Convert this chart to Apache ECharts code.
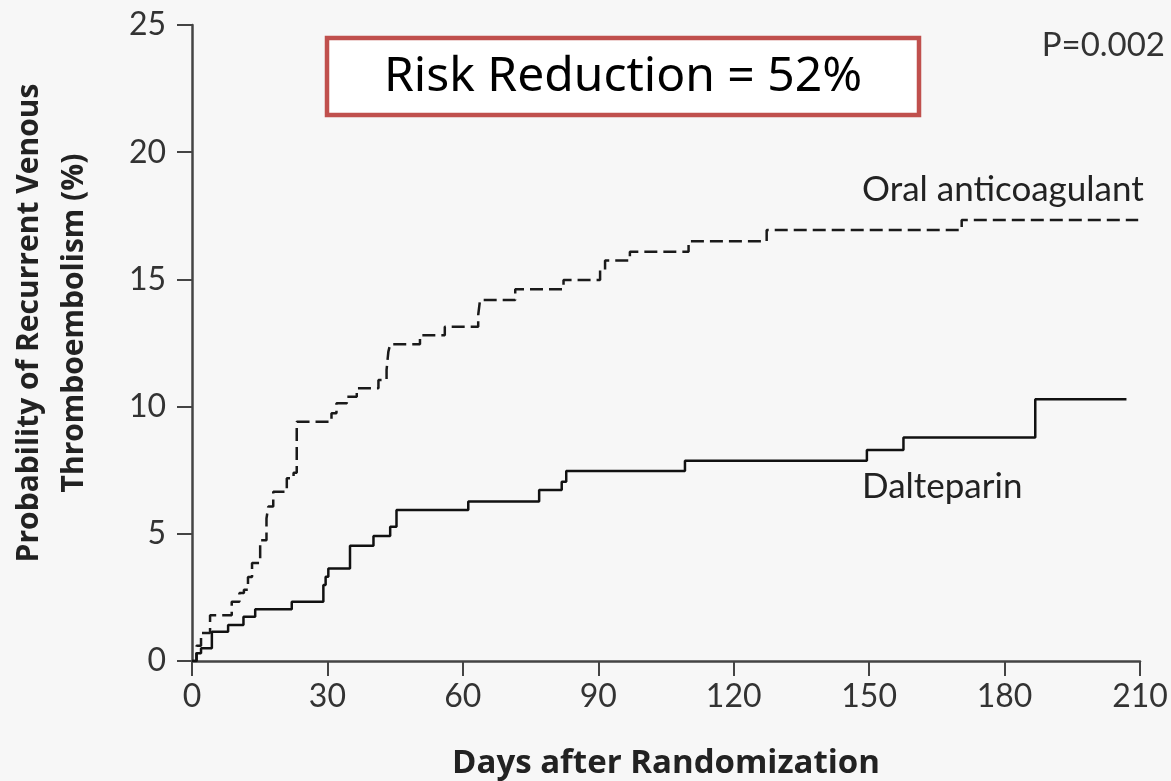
<!DOCTYPE html>
<html>
<head>
<meta charset="utf-8">
<script src="https://cdn.jsdelivr.net/npm/echarts@6/dist/echarts.min.js"></script>
<style>
html,body{margin:0;padding:0;background:#f7f7f7;}
#chart{width:1171px;height:781px;}
</style>
</head>
<body>
<div id="chart"></div>
<script>
// Kaplan-Meier style cumulative probability (%), [day, value]
const oralDays   = [0, 1, 2, 4, 8.8, 10.5, 11.5, 12.4, 13.3, 15.1, 16.5, 16.9, 18, 21, 22.5, 23.2, 30.9, 32, 34.3, 36.5, 41.3, 43.1, 43.5, 43.9, 50.5, 56, 63.4, 63.8, 71.6, 82.3, 90.4, 91.5, 97, 110, 127.3, 170.5, 209.6];
const oralValues = [0, 0.6, 1.1, 1.8, 2.33, 2.67, 2.8, 3.3, 3.85, 4.75, 5.6, 6.07, 6.65, 7.18, 7.4, 9.4, 9.74, 10.13, 10.39, 10.72, 11.05, 11.44, 12.16, 12.45, 12.8, 13.14, 13.6, 14.19, 14.61, 14.98, 15.37, 15.74, 16.09, 16.5, 16.94, 17.33, 17.33];
const daltDays   = [0, 1, 2, 4.4, 8, 11.4, 14, 22.1, 29.1, 29.6, 30.2, 35, 40.2, 43.9, 45.3, 61.2, 76.9, 81.9, 82.9, 109.2, 149.5, 157.6, 186.8, 207];
const daltValues = [0, 0.3, 0.5, 1.15, 1.42, 1.74, 2.03, 2.33, 2.99, 3.31, 3.64, 4.53, 4.91, 5.28, 5.94, 6.27, 6.72, 7.05, 7.47, 7.87, 8.29, 8.79, 10.29, 10.29];
const xTicks = [0, 30, 60, 90, 120, 150, 180, 210];
const yTicks = [0, 5, 10, 15, 20, 25];
const seriesNames = ['Oral anticoagulant', 'Dalteparin'];
const pValueText = 'P=0.002';
const riskText = 'Risk Reduction = 52%';

const zip = (a, b) => a.map((d, i) => [d, b[i]]);
const chart = echarts.init(document.getElementById('chart'));
const FONT = 'Lato, "Noto Sans", sans-serif';
const BOLDFONT = '"Open Sans", Lato, sans-serif';

chart.setOption({
  backgroundColor: '#f7f7f7',
  animation: false,
  grid: { left: 192, right: 31, top: 25, bottom: 120, containLabel: false, outerBoundsMode: 'none' },
  xAxis: {
    type: 'value', min: xTicks[0], max: xTicks[xTicks.length - 1], interval: 30,
    name: 'Days after Randomization', nameLocation: 'middle', nameGap: 86,
    nameTextStyle: { fontFamily: BOLDFONT, fontWeight: 'bold', fontSize: 33, color: '#222' },
    axisLine: { show: true, lineStyle: { color: '#444', width: 2.5 } },
    axisTick: { show: true, length: 15, lineStyle: { color: '#444', width: 2 } },
    axisLabel: { fontFamily: FONT, fontSize: 32, color: '#333', margin: 20 },
    splitLine: { show: false }
  },
  yAxis: {
    type: 'value', min: yTicks[0], max: yTicks[yTicks.length - 1], interval: 5,
    axisLine: { show: true, lineStyle: { color: '#444', width: 2.5 } },
    axisTick: { show: true, length: 15, lineStyle: { color: '#444', width: 2 } },
    axisLabel: { fontFamily: FONT, fontSize: 32, color: '#333', margin: 26 },
    splitLine: { show: false }
  },
  series: [
    {
      name: seriesNames[0], type: 'line', step: 'end', symbol: 'none',
      data: zip(oralDays, oralValues),
      lineStyle: { color: '#1a1a1a', width: 2.5, type: [13, 6] }
    },
    {
      name: seriesNames[1], type: 'line', step: 'end', symbol: 'none',
      data: zip(daltDays, daltValues),
      lineStyle: { color: '#111', width: 2.5, type: 'solid' }
    }
  ],
  graphic: [
    {
      type: 'text', x: 52, y: 323, rotation: Math.PI / 2,
      style: {
        text: 'Probability of Recurrent Venous\nThromboembolism (%)',
        fontFamily: BOLDFONT, fontWeight: 'bold', fontSize: 30, lineHeight: 45,
        fill: '#222', textAlign: 'center', textVerticalAlign: 'middle'
      }
    },
    {
      type: 'rect', shape: { x: 327, y: 38, width: 592, height: 77 },
      style: { fill: '#ffffff', stroke: '#c0504d', lineWidth: 4.5 }
    },
    {
      type: 'text', x: 623, y: 77,
      style: { text: riskText, fontFamily: '"Noto Sans", sans-serif', fontSize: 48,
        fill: '#000', textAlign: 'center', textVerticalAlign: 'middle' }
    },
    {
      type: 'text', x: 1165, y: 45,
      style: { text: pValueText, fontFamily: FONT, fontSize: 33, fill: '#333',
        textAlign: 'right', textVerticalAlign: 'middle' }
    },
    {
      type: 'text', x: 862, y: 190,
      style: { text: seriesNames[0], fontFamily: FONT, fontSize: 35, fill: '#222',
        textAlign: 'left', textVerticalAlign: 'middle' }
    },
    {
      type: 'text', x: 862, y: 487,
      style: { text: seriesNames[1], fontFamily: FONT, fontSize: 35, fill: '#222',
        textAlign: 'left', textVerticalAlign: 'middle' }
    }
  ]
});
</script>
</body>
</html>
